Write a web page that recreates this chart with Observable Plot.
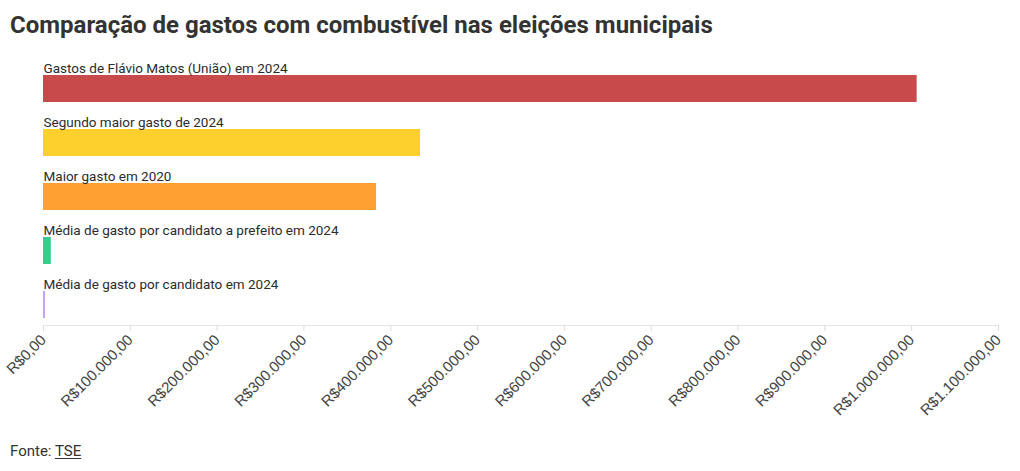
<!DOCTYPE html>
<html>
<head>
<meta charset="utf-8">
<script src="https://cdn.jsdelivr.net/npm/d3@7"></script>
<script src="https://cdn.jsdelivr.net/npm/@observablehq/plot@0.6"></script>
<style>
  html, body { margin: 0; padding: 0; background: #fff; }
  #title { height: 48px; line-height: 50px; padding-left: 10px; font-family: Roboto, sans-serif; font-weight: 700; font-size: 24px; color: #333; white-space: nowrap; }
  #caption { margin-top: 16px; padding-left: 10px; font-family: Roboto, sans-serif; font-size: 15px; color: #333; line-height: 20px; }
  #caption u { text-underline-offset: 2px; }
</style>
</head>
<body>
<div id="title">Comparação de gastos com combustível nas eleições municipais</div>
<div id="chart"></div>
<div id="caption">Fonte: <u>TSE</u></div>
<script>
const categories = [
  "Gastos de Flávio Matos (União) em 2024",
  "Segundo maior gasto de 2024",
  "Maior gasto em 2020",
  "Média de gasto por candidato a prefeito em 2024",
  "Média de gasto por candidato em 2024"
];
const values = [1006300, 434300, 383600, 9000, 2300];
const colors = ["#c94a4a", "#fdd02e", "#ffa033", "#36cc8c", "#c8a2ec"];
const tickValues = [0, 100000, 200000, 300000, 400000, 500000, 600000, 700000, 800000, 900000, 1000000, 1100000];

const data = categories.map((c, i) => ({category: c, value: values[i], color: colors[i]}));

const brl = d3.formatLocale({decimal: ",", thousands: ".", grouping: [3], currency: ["R$", ""]}).format("$,.2f");

const chart = Plot.plot({
  width: 1020,
  height: 377,
  marginTop: 0,
  marginLeft: 43,
  marginRight: 22,
  marginBottom: 100,
  style: {fontFamily: "Roboto, sans-serif", color: "#333", background: "#fff"},
  x: {domain: [0, 1100000], axis: null},
  y: {domain: categories, axis: null, paddingInner: 0, paddingOuter: 0.065, align: 0, round: false},
  color: {domain: categories, range: colors},
  marks: [
    Plot.frame({anchor: "bottom", stroke: "#e6e6e6"}),
    Plot.axisX({
      anchor: "bottom",
      ticks: tickValues,
      tickFormat: brl,
      tickRotate: -45,
      tickSize: 6,
      stroke: "#ddd",
      fill: "#444",
      fontSize: 15,
      fontFamily: "'Liberation Sans', Arial, sans-serif",
      label: null
    }),
    Plot.barX(data, {x: "value", y: "category", fill: "category", insetTop: 27, insetBottom: 0}),
    Plot.text(data, {x: 0, y: "category", text: "category", textAnchor: "start", lineAnchor: "middle", dy: -7, fontSize: 13.5, fill: "#2b2b2b"})
  ]
});
document.getElementById("chart").append(chart);
</script>
</body>
</html>
